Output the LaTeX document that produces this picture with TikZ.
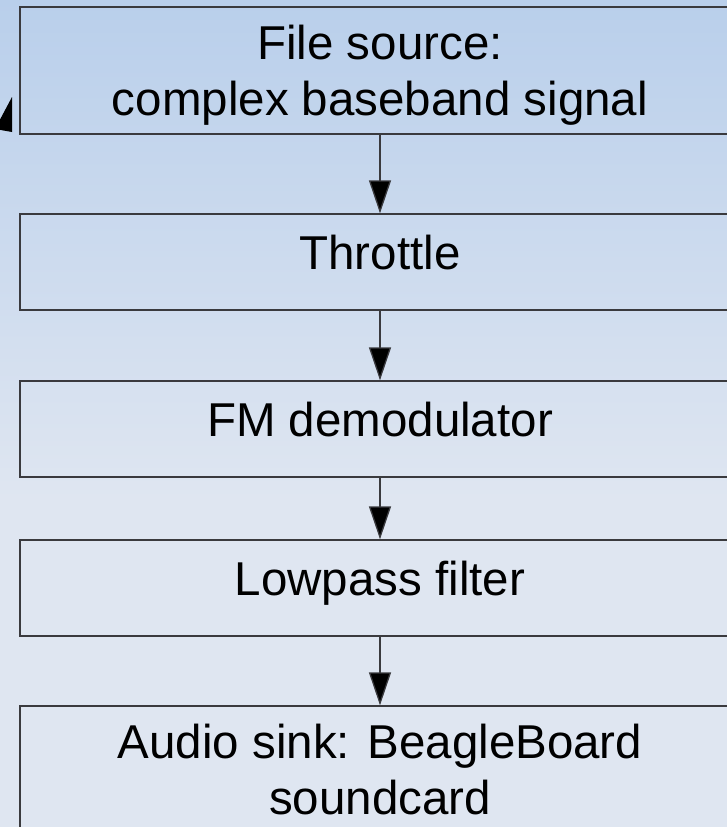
\documentclass[tikz,border=0pt]{standalone}
\usepackage{fontspec}
\setmainfont{Liberation Sans}
\usetikzlibrary{arrows.meta}
\definecolor{bgtop}{RGB}{185,207,235}
\definecolor{bgbot}{RGB}{223,230,241}
\definecolor{edge}{RGB}{58,58,62}
\begin{document}
\begin{tikzpicture}[x=1pt,y=-1pt,
  block/.style={draw=edge, line width=1.3pt, minimum width=720pt, inner sep=0pt,
                align=center, font=\fontsize{47.5}{56}\selectfont},
  oneline/.style={block, minimum height=96pt, text depth=20pt},
  twoline/.style={block, minimum height=127pt, text depth=0pt},
  flow/.style={draw=edge, line width=1.3pt,
               -{Triangle[width=22pt,length=33pt,fill=black]}}]%{{{
\useasboundingbox (0,0) rectangle (727,827);
\clip (0,0) rectangle (727,827);
%
% Fond dégradé
\shade [top color=bgtop, bottom color=bgbot] (0,0) rectangle (727,500);
\fill [bgbot] (0,499) rectangle (727,827);
%
% Chaîne de traitement
\node (src)   [twoline] at (380,70.5) {File source:\\complex baseband signal};
\node (thr)   [oneline] at (380,262)  {Throttle};
\node (demod) [oneline] at (380,429)  {FM demodulator};
\node (lpf)   [oneline] at (380,588)  {Lowpass filter};
\node (sink)  [twoline] at (380,769.5) {Audio sink: BeagleBoard\\soundcard};
%
\draw [flow] (src)   -- (thr);
\draw [flow] (thr)   -- (demod);
\draw [flow] (demod) -- (lpf);
\draw [flow] (lpf)   -- (sink);
%
% Pointe de flèche coupée (bord gauche)
\fill [black] (12,97) -- (12,132) -- (-5,129) -- cycle;
%
\end{tikzpicture}
\end{document}
